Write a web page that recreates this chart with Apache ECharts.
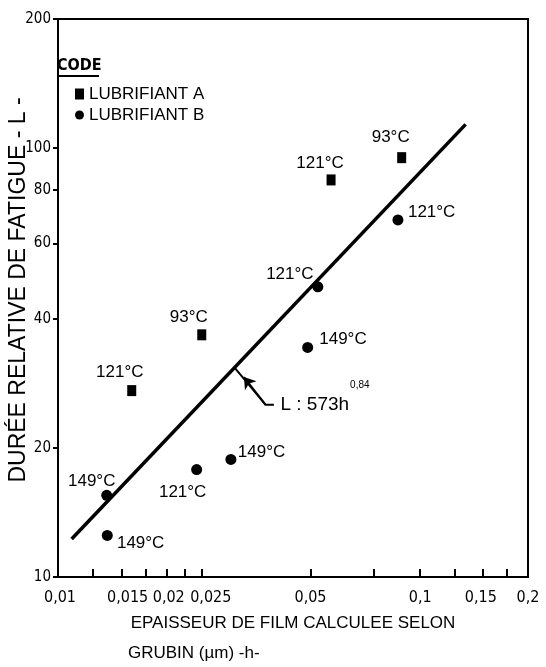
<!DOCTYPE html>
<html>
<head>
<meta charset="utf-8">
<script src="https://cdn.jsdelivr.net/npm/echarts@6/dist/echarts.min.js"></script>
<style>
html,body{margin:0;padding:0;background:#fff;}
#chart{width:546px;height:667px;}
</style>
</head>
<body>
<div id="chart"></div>
<script>
// ---- data ----
const hA = [0.0160, 0.0250, 0.0570, 0.0894];          // lubrifiant A, film thickness (µm)
const lA = [27.2, 36.7, 84.3, 95.0];                   // relative fatigue life
const tA = ['121°C', '93°C', '121°C', '93°C'];
const hB = [0.0873, 0.0524, 0.0491, 0.0301, 0.0242, 0.01364, 0.01369];
const lB = [68.0, 47.5, 34.3, 18.8, 17.8, 15.5, 12.5];
const tB = ['121°C', '121°C', '149°C', '149°C', '121°C', '149°C', '149°C'];
const fitH = [0.01091, 0.1344];                        // regression line end points
const fitL = [12.26, 113.6];
const arrowH = [0.0396, 0.03757, 0.0309];              // annotation pointer
const arrowL = [25.2, 25.2, 30.7];
const arrowHeadH = [0.03757, 0.03272];
const arrowHeadL = [25.2, 29.26];
const xTickValues = [0.01, 0.0125, 0.015, 0.0175, 0.02, 0.0225, 0.025, 0.05, 0.075, 0.1, 0.125, 0.15, 0.175, 0.2];
const xLabelValues = [0.01, 0.015, 0.02, 0.025, 0.05, 0.1, 0.15, 0.2];
const yTickValues = [10, 20, 40, 60, 80, 100, 200];
const seriesNames = ['LUBRIFIANT A', 'LUBRIFIANT B'];

// ---- layout (label offsets from marker centre, tick-label nudges) ----
const offA = [[-12, -18], [-13, -18], [-11, -17], [-11, -20]];
const offB = [[33.7, -8], [-28, -12], [35.3, -8], [30.7, -7], [-14, 23], [-15, -14], [33.4, 8]];
const xLabelShift = { '0.01': 2, '0.015': 6, '0.02': 2, '0.025': 9, '0.05': 0, '0.1': 1, '0.15': -2, '0.2': 0 };

const ink = '#000';
const narrow = "'Liberation Sans Narrow', 'DejaVu Sans Condensed', 'Liberation Sans', sans-serif";
const sans = "'Liberation Sans', Arial, sans-serif";

function pts(h, l, t, off) {
  return h.map((v, i) => ({
    value: [v, l[i]],
    name: t[i],
    label: { offset: off[i] }
  }));
}

const gapStyles = {};
for (let n = 1; n <= 18; n++) gapStyles['g' + n] = { width: 2 * n, height: 1 };

const chart = echarts.init(document.getElementById('chart'), null, { renderer: 'canvas' });

const pointLabel = {
  show: true,
  position: 'inside',
  formatter: p => p.name,
  color: ink,
  opacity: 1,
  fontFamily: sans,
  fontSize: 17
};

chart.setOption({
  animation: false,
  backgroundColor: '#fff',
  grid: {
    left: 58, right: 18, top: 19, bottom: 90,
    outerBoundsMode: 'none',
    containLabel: false,
    show: true, borderColor: ink, borderWidth: 2, backgroundColor: 'transparent'
  },
  legend: {
    orient: 'vertical',
    left: 70, top: 80,
    itemWidth: 9, itemHeight: 11, itemGap: 3,
    selectedMode: false,
    textStyle: { color: ink, fontFamily: sans, fontSize: 17, lineHeight: 18 },
    data: [{ name: seriesNames[0], icon: 'rect' }, { name: seriesNames[1], icon: 'circle' }]
  },
  graphic: [
    { type: 'text', left: 57, top: 58,
      style: { text: 'CODE', fill: ink, font: "bold 16px " + narrow } },
    { type: 'line', shape: { x1: 57, y1: 76, x2: 99, y2: 76 },
      style: { stroke: ink, lineWidth: 2 } }
  ],
  xAxis: {
    type: 'log', logBase: 10, min: 0.01, max: 0.2,
    name: '{a|EPAISSEUR DE FILM CALCULEE SELON}\n{b|GRUBIN (µm) -h-}',
    nameLocation: 'middle', nameGap: 31,
    nameMoveOverlap: false,
    nameTextStyle: {
      color: ink, fontFamily: sans, fontSize: 17,
      rich: {
        a: { fontSize: 17, fontFamily: sans, color: ink, lineHeight: 30 },
        b: { fontSize: 17, fontFamily: sans, color: ink, lineHeight: 30, width: 330, align: 'left' }
      }
    },
    axisLine: { show: true, lineStyle: { color: ink, width: 2 } },
    axisTick: { show: true, inside: true, length: 8, customValues: xTickValues, lineStyle: { color: ink, width: 2 } },
    minorTick: { show: false },
    splitLine: { show: false },
    axisLabel: {
      customValues: xLabelValues,
      margin: 13, color: ink, fontFamily: narrow, fontSize: 16,
      formatter: v => {
        const s = xLabelShift[String(v)] || 0;
        const txt = String(v).replace('.', ',');
        return s > 0 ? '{g' + s + '|}{r|' + txt + '}' : (s < 0 ? '{r|' + txt + '}{g' + (-s) + '|}' : '{r|' + txt + '}');
      },
      rich: Object.assign({ r: { fontFamily: narrow, fontSize: 16, color: ink } }, gapStyles),
      showMinLabel: true, showMaxLabel: true
    }
  },
  yAxis: {
    type: 'log', logBase: 10, min: 10, max: 200,
    name: 'DURÉE RELATIVE DE FATIGUE - L -',
    nameLocation: 'middle', nameGap: 28,
    nameMoveOverlap: false,
    nameTextStyle: { color: ink, fontFamily: sans, fontSize: 23, padding: [0, 0, 0, 16] },
    axisLine: { show: true, lineStyle: { color: ink, width: 2 } },
    axisTick: { show: true, inside: false, length: 5, customValues: yTickValues, lineStyle: { color: ink, width: 2 } },
    minorTick: { show: false },
    splitLine: { show: false },
    axisLabel: {
      customValues: yTickValues,
      margin: 7, color: ink, fontFamily: narrow, fontSize: 15,
      showMinLabel: true, showMaxLabel: true
    }
  },
  series: [
    {
      name: seriesNames[0], type: 'scatter',
      symbol: 'rect', symbolSize: [9, 11],
      itemStyle: { color: ink, opacity: 1 },
      label: pointLabel,
      emphasis: { disabled: true },
      data: pts(hA, lA, tA, offA), z: 5
    },
    {
      name: seriesNames[1], type: 'scatter',
      symbol: 'circle', symbolSize: 11,
      itemStyle: { color: ink, opacity: 1 },
      label: pointLabel,
      emphasis: { disabled: true },
      data: pts(hB, lB, tB, offB), z: 5
    },
    {
      name: 'fit', type: 'line',
      data: fitH.map((v, i) => [v, fitL[i]]),
      showSymbol: false, symbol: 'none',
      lineStyle: { color: ink, width: 3.5 },
      emphasis: { disabled: true }, z: 3
    },
    {
      name: 'pointer', type: 'line',
      data: arrowH.map((v, i) => i === 0 ? {
        value: [v, arrowL[i]],
        symbol: 'circle', symbolSize: 1,
        label: {
          show: true, position: 'right', distance: 6,
          formatter: '{m|L : 573h}{s|0,84}',
          rich: {
            m: { fontSize: 19, fontFamily: sans, color: ink },
            s: { fontSize: 10, fontFamily: sans, color: ink, padding: [0, 0, 40, 1] }
          }
        }
      } : { value: [v, arrowL[i]], symbol: 'none' }),
      showSymbol: true,
      itemStyle: { color: 'rgba(0,0,0,0)' },
      lineStyle: { color: ink, width: 2 },
      emphasis: { disabled: true }, z: 4
    },
    {
      name: 'arrowhead', type: 'lines', coordinateSystem: 'cartesian2d',
      symbol: ['none', 'arrow'], symbolSize: 11,
      lineStyle: { color: ink, width: 2, opacity: 1 },
      data: [{ coords: arrowHeadH.map((v, i) => [v, arrowHeadL[i]]) }],
      z: 4
    }
  ]
});
</script>
</body>
</html>
